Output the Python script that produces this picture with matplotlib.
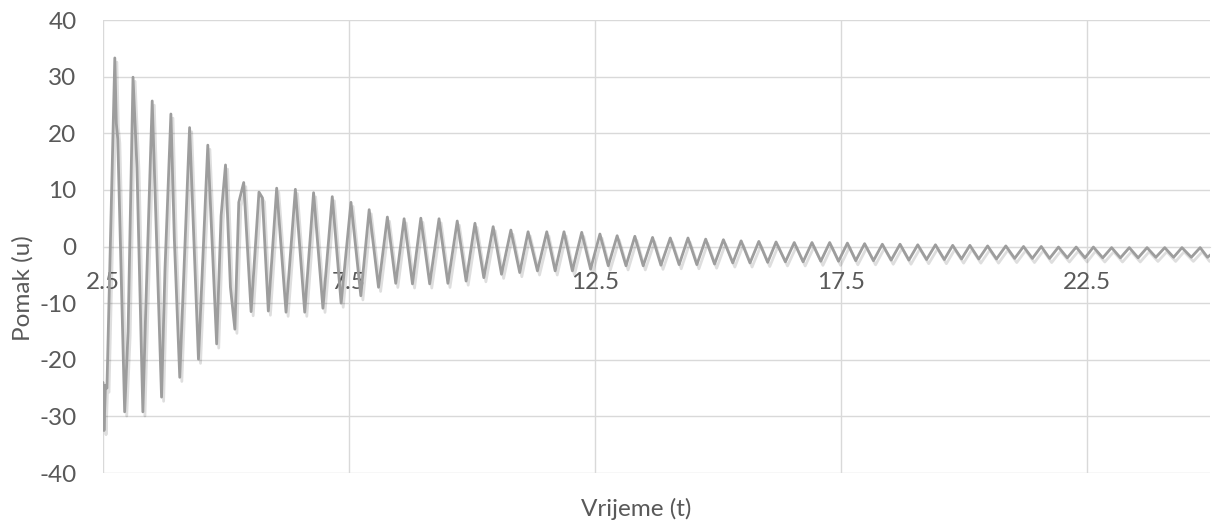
import numpy as np
import matplotlib
matplotlib.use('Agg')
import matplotlib.pyplot as plt
import matplotlib.patheffects as pe

# extrema (and kinks) of the displacement curve
t_pts = [2.50, 2.52, 2.55, 2.58, 2.74, 2.77, 2.80, 2.94, 3.01, 3.11,
         3.19, 3.31, 3.37, 3.50, 3.69, 3.76, 3.88, 3.95, 4.06, 4.26,
         4.44, 4.63, 4.81, 4.90, 4.99, 5.09, 5.18, 5.26, 5.36, 5.51,
         5.67, 5.74, 5.86, 6.03, 6.22, 6.41, 6.60, 6.78, 6.97, 7.16,
         7.34, 7.54, 7.74, 7.91, 8.10, 8.28, 8.45, 8.62, 8.79, 8.96,
         9.14, 9.33, 9.51, 9.70, 9.88, 10.06, 10.24, 10.43, 10.60, 10.79,
         10.97, 11.14, 11.33, 11.52, 11.69, 11.87, 12.04, 12.23, 12.41, 12.60,
         12.77, 12.95, 13.13, 13.31, 13.48, 13.67, 13.84, 14.03, 14.21, 14.39,
         14.57, 14.75, 14.93, 15.11, 15.30, 15.47, 15.65, 15.83, 16.01, 16.18,
         16.37, 16.55, 16.73, 16.91, 17.09, 17.27, 17.45, 17.63, 17.80, 17.98,
         18.16, 18.34, 18.52, 18.70, 18.88, 19.06, 19.24, 19.42, 19.60, 19.77,
         19.95, 20.12, 20.30, 20.48, 20.66, 20.85, 21.03, 21.21, 21.39, 21.57,
         21.74, 21.92, 22.10, 22.28, 22.46, 22.63, 22.82, 23.00, 23.18, 23.36,
         23.54, 23.72, 23.90, 24.08, 24.26, 24.43, 24.62, 24.80, 24.95, 25.05]
u_pts = [-24.0, -32.5, -24.5, -25.0, 33.3, 21.8, 19.0, -29.2, -15.0, 29.9,
         14.0, -29.2, -10.8, 25.7, -26.6, -4.0, 23.4, 1.3, -23.1, 21.0,
         -19.9, 17.9, -17.2, 5.4, 14.4, -7.2, -14.6, 7.8, 11.3, -11.5,
         9.6, 8.6, -11.4, 10.3, -11.6, 10.1, -11.6, 9.5, -10.9, 8.8,
         -10.0, 7.8, -8.7, 6.5, -7.2, 5.2, -6.5, 4.9, -6.6, 5.0,
         -6.6, 4.9, -6.5, 4.5, -6.1, 4.1, -5.5, 3.5, -4.9, 2.9,
         -4.6, 2.6, -4.3, 2.6, -4.3, 2.6, -4.3, 2.5, -4.0, 2.2,
         -3.4, 1.9, -3.4, 1.8, -3.4, 1.6, -3.3, 1.5, -3.2, 1.5,
         -3.2, 1.3, -3.1, 1.2, -2.9, 1.0, -2.9, 0.9, -2.8, 0.8,
         -2.7, 0.7, -2.7, 0.7, -2.6, 0.7, -2.6, 0.6, -2.5, 0.5,
         -2.5, 0.4, -2.4, 0.4, -2.4, 0.3, -2.3, 0.3, -2.3, 0.2,
         -2.2, 0.2, -2.2, 0.1, -2.2, 0.1, -2.1, 0.0, -2.1, 0.0,
         -2.1, -0.1, -2.0, -0.1, -2.0, -0.1, -2.0, -0.2, -2.0, -0.2,
         -2.0, -0.2, -1.9, -0.2, -1.9, -0.2, -1.9, -0.2, -1.9, -1.2]

x_ticks = [2.5, 7.5, 12.5, 17.5, 22.5]
y_ticks = [-40, -30, -20, -10, 0, 10, 20, 30, 40]

plt.rcParams['font.family'] = ['Lato', 'DejaVu Sans']
plt.rcParams['axes.unicode_minus'] = False

fig = plt.figure(figsize=(12.15, 5.24), dpi=100)
ax = fig.add_axes([103/1215, 1 - 473/524, 1107/1215, 453/524])

ax.plot(t_pts, u_pts, color='#9d9d9d', lw=2.0, solid_joinstyle='round',
        solid_capstyle='round',
        path_effects=[pe.SimpleLineShadow(offset=(1.5, -3), shadow_color='black', alpha=0.13),
                      pe.Normal()], zorder=3)

ax.set_xlim(2.5, 25.0)
ax.set_ylim(-40, 40)
ax.set_xticks(x_ticks)
ax.set_xticklabels([str(v) for v in x_ticks])
ax.set_yticks(y_ticks)
ax.grid(True, color='#d9d9d9', lw=1, zorder=0)
ax.set_axisbelow(True)

for s in ['top', 'right', 'left']:
    ax.spines[s].set_visible(False)
ax.spines['bottom'].set_position(('data', 0))
ax.spines['bottom'].set_color('#d9d9d9')

ax.tick_params(axis='x', length=0, pad=18, labelsize=17.5, labelcolor='#595959')
ax.tick_params(axis='y', length=0, pad=19, labelsize=17.5, labelcolor='#595959')

fig.text(636/1215, 1 - 509/524, 'Vrijeme (t)', ha='center', va='center',
         fontsize=17.5, color='#595959')
fig.text(23/1215, 1 - 288/524, 'Pomak (u)', ha='center', va='center',
         rotation=90, fontsize=17.5, color='#595959')

fig.savefig('out.png', dpi=100)
